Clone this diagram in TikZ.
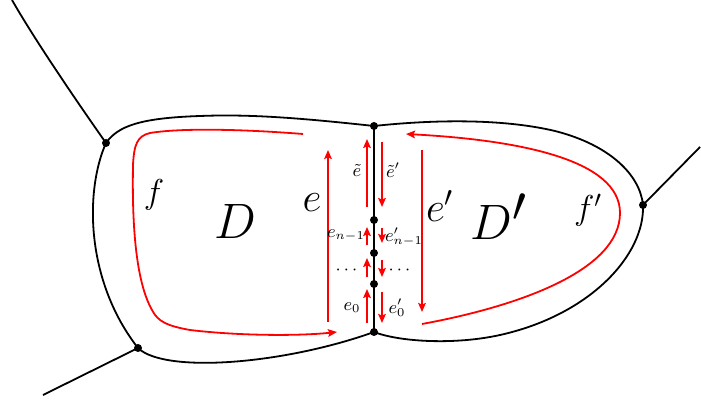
\documentclass[tikz,border=0pt]{standalone}
\usepackage{amsmath,amssymb}
\usepackage{xcolor}
\usetikzlibrary{arrows.meta}

\begin{document}
\begin{tikzpicture}[
  x=0.5pt, y=-0.5pt,
  edge/.style={draw=black, line width=0.9pt},
  walk/.style={draw=red, line width=0.9pt},
  walkarr/.style={walk, -{Stealth[length=4.5pt,width=3.8pt,inset=0.8pt]}},
  vertex/.style={circle, fill=black, inner sep=0pt, minimum size=4pt},
  huge/.style={font=\fontsize{33}{38}\selectfont, inner sep=0pt},
  big/.style={font=\fontsize{20}{24}\selectfont, inner sep=0pt},
  mid/.style={font=\fontsize{17}{20}\selectfont, inner sep=0pt},
  small/.style={font=\fontsize{9}{11}\selectfont, inner sep=0pt}
]
  \useasboundingbox (0,0) rectangle (701,400);
  % vertices
  \coordinate (top) at (374,126);
  \coordinate (bot) at (374,332);
  \coordinate (m3) at (374,220);
  \coordinate (m2) at (374,253);
  \coordinate (m1) at (374,284);
  \coordinate (vA) at (106,143);
  \coordinate (vB) at (138,348);
  \coordinate (vC) at (643,205);
  \coordinate (outA) at (12,0);
  \coordinate (outB) at (43,395);
  \coordinate (outC) at (700,147);
  % face D
  \draw[edge] (top) .. controls (300,118) and (250,114) .. (200,116)
    .. controls (140,118) and (118,126) .. (vA);
  \draw[edge] (vA) .. controls (85,190) and (85,280) .. (vB);
  \draw[edge] (vB) .. controls (165,374) and (285,364) .. (bot);
  % face D'
  \draw[edge] (top) .. controls (430,120) and (500,118) .. (555,131)
    .. controls (610,145) and (640,175) .. (vC);
  \draw[edge] (vC) .. controls (645,255) and (590,315) .. (500,335)
    .. controls (455,345) and (400,342) .. (bot);
  % outer edges
  \draw[edge] (vA) .. controls (80,106) and (36,42) .. (outA);
  \draw[edge] (vB) -- (outB);
  \draw[edge] (vC) -- (outC);
  \draw[edge] (top) -- (bot);
  % boundary walks
  \draw[walkarr] (303,134) .. controls (240,129) and (180,128) .. (150,133)
    .. controls (137,136) and (134,145) .. (133,165)
    .. controls (132,220) and (135,280) .. (152,310)
    .. controls (158,322) and (168,326) .. (190,330)
    .. controls (240,336) and (300,336) .. (337,332);
  \draw[walkarr] (422,324) .. controls (520,306) and (620,270) .. (620,213)
    .. controls (620,160) and (520,140) .. (406,134);
  % edge arrows
  \foreach \xa/\ya/\yb in {328/322/150, 422/150/312, 367/207/139, 382/142/207,
    367/245/227, 382/228/243, 367/277/258, 382/260/277, 367/323/289, 382/292/323} {
    \draw[walkarr] (\xa,\ya) -- (\xa,\yb);
  }
  \foreach \v in {top,bot,m1,m2,m3,vA,vB,vC} {
    \node[vertex] at (\v) {};
  }
  % labels
  \node[huge] (lD) at (235,221.5) {$D$};
  \node[huge] (lDp) at (499,216.5) {$D'$};
  \node[big] (le) at (312,203) {$e$};
  \node[big] (lep) at (440,206) {$e'$};
  \node[mid] (lf) at (154,195) {$f$};
  \node[mid] (lfp) at (588,210) {$f'$};
  \node[small] (let) at (357,170) {$\tilde{e}$};
  \node[small] (letp) at (393,170) {$\tilde{e}'$};
  \node[small] (len) at (346,235) {$e_{n-1}$};
  \node[small] (lenp) at (404,237) {$e'_{n-1}$};
  \node[small] (ldl) at (348,270) {$\cdots$};
  \node[small] (ldr) at (401,270) {$\cdots$};
  \node[small] (le0) at (352,308) {$e_0$};
  \node[small] (le0p) at (397,308) {$e'_0$};
\end{tikzpicture}
\end{document}
